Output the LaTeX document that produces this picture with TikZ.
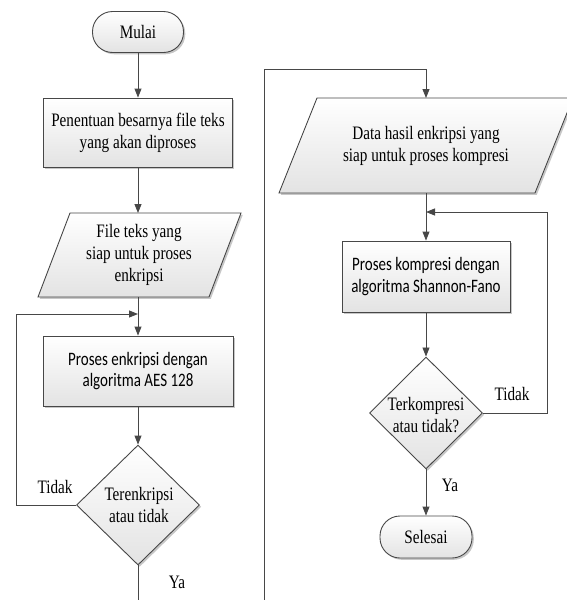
\documentclass[tikz,border=0pt]{standalone}
\usepackage{fontspec}
\setmainfont[FakeStretch=0.8]{Liberation Serif}
\newfontfamily\calfont[FakeStretch=0.79]{Carlito}
\usetikzlibrary{arrows.meta,shapes.geometric,shadows}
\tikzset{
  ln/.style={draw=black!72, line width=0.9pt},
  arr/.style={ln, -{Triangle[length=9pt,width=7pt]}},
  shd/.style={drop shadow={shadow xshift=1.8pt, shadow yshift=-1.8pt, opacity=0.4, fill=black!55}},
  fillsh/.style={top color=white, bottom color=black!11},
  serifsz/.style={font=\fontsize{19}{22}\selectfont},
  sanssz/.style={font=\calfont\fontsize{19}{21.5}\selectfont},
  procbox/.style={rectangle, ln, fillsh, shd, inner sep=0pt, align=center},
  term/.style={rectangle, rounded corners=20pt, ln, fillsh, shd, inner sep=0pt, align=center, serifsz},
  dec/.style={diamond, aspect=1, ln, fillsh, shd, inner sep=0pt},
  iobox/.style={ln, fillsh, shd},
  txt/.style={serifsz, align=center, inner sep=0pt},
}
\begin{document}
\begin{tikzpicture}[x=1pt, y=-1pt]
\useasboundingbox (0,0) rectangle (567,600);

% ---------- left column ----------
\node[term, minimum width=91pt, minimum height=41pt] (mulai) at (138,32) {Mulai};
\node[procbox, serifsz, minimum width=189pt, minimum height=69pt] (b1) at (138,132.5)
  {Penentuan besarnya file teks\\yang akan diproses};
\draw[iobox] (70,213) -- (241,213) -- (209,297) -- (38,297) -- cycle;
\node[txt] (p1) at (139,255) {File teks yang\\siap untuk proses\\enkripsi};
\coordinate (p1top) at (138,213);
\coordinate (p1bot) at (138,297);
\node[procbox, sanssz, minimum width=190pt, minimum height=70pt] (b2) at (138,371)
  {Proses enkripsi dengan\\algoritma AES 128};
\node[dec, minimum width=123pt, minimum height=120pt] (d1) at (138,505) {};
\node[txt] (d1t) at (139,505) {Terenkripsi\\atau tidak};

\draw[arr] (mulai) -- (b1);
\draw[arr] (b1) -- (p1top);
\draw[arr] (p1bot) -- (b2);
\draw[arr] (b2) -- (d1);
\coordinate (bot1) at (138,600);
\draw[ln] (d1.south) -- (bot1);
\coordinate (l1a) at (16,505);
\coordinate (l1b) at (16,314);
\coordinate (l1c) at (138,314);
\draw[arr] (d1.west) -- (l1a) -- (l1b) -- (l1c);
\node[txt] (tidak1) at (55,487) {Tidak};
\node[txt] (ya1) at (177,582) {Ya};

% ---------- right column ----------
\coordinate (r0) at (264,600);
\coordinate (r1) at (264,69);
\coordinate (r2) at (426,69);
\coordinate (p2top) at (426,98);
\draw[arr] (r0) -- (r1) -- (r2) -- (p2top);
\draw[iobox] (317,98) -- (573,98) -- (535,193) -- (279,193) -- cycle;
\node[txt] (p2) at (426,146) {Data hasil enkripsi yang\\siap untuk proses kompresi};
\coordinate (p2bot) at (426,193);
\node[procbox, sanssz, minimum width=168pt, minimum height=71pt] (b3) at (426,276.5)
  {Proses kompresi dengan\\algoritma Shannon-Fano};
\node[dec, minimum width=113pt, minimum height=112pt] (d2) at (426,413) {};
\node[txt] (d2t) at (426,415) {Terkompresi\\atau tidak?};
\node[term, minimum width=92pt, minimum height=42pt] (selesai) at (426,537) {Selesai};

\draw[arr] (p2bot) -- (b3);
\draw[arr] (b3) -- (d2);
\draw[arr] (d2) -- (selesai);
\coordinate (l2a) at (547,413);
\coordinate (l2b) at (547,212);
\coordinate (l2c) at (426,212);
\draw[arr] (d2.east) -- (l2a) -- (l2b) -- (l2c);
\node[txt] (tidak2) at (512,394) {Tidak};
\node[txt] (ya2) at (450,485) {Ya};
\end{tikzpicture}
\end{document}
